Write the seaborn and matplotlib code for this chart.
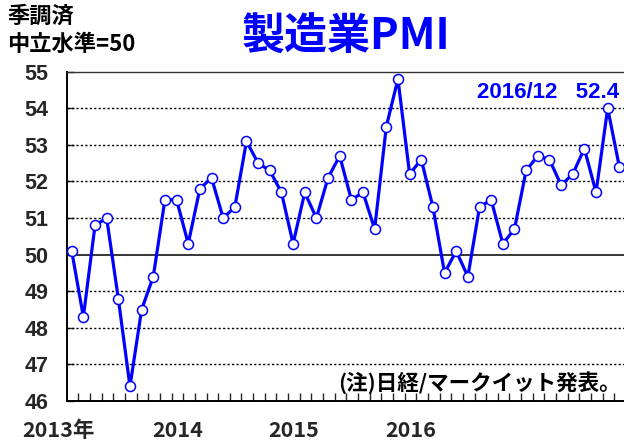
import matplotlib
matplotlib.use("Agg")
import matplotlib.pyplot as plt
import matplotlib.transforms as mtransforms
import numpy as np
import pandas as pd
import seaborn as sns

# ---- data ----
months = [f"{y}/{m:02d}" for y in (2013, 2014, 2015, 2016) for m in range(1, 13)]
pmi = [50.1, 48.3, 50.8, 51.0, 48.8, 46.4, 48.5, 49.4, 51.5, 51.5, 50.3, 51.8,
       52.1, 51.0, 51.3, 53.1, 52.5, 52.3, 51.7, 50.3, 51.7, 51.0, 52.1, 52.7,
       51.5, 51.7, 50.7, 53.5, 54.8, 52.2, 52.6, 51.3, 49.5, 50.1, 49.4, 51.3,
       51.5, 50.3, 50.7, 52.3, 52.7, 52.6, 51.9, 52.2, 52.9, 51.7, 54.0, 52.4]
year_labels = ["2013年", "2014", "2015", "2016"]
y_ticks = [46, 47, 48, 49, 50, 51, 52, 53, 54, 55]
title = "製造業PMI"
note_top = "季調済\n中立水準=50"
latest_label = "2016/12   52.4"
source_note = "(注)日経/マークイット発表。"

df = pd.DataFrame({"idx": np.arange(len(pmi)), "month": months, "pmi": pmi})

sns.set_style("white")
plt.rcParams["font.family"] = ["Liberation Sans", "Noto Sans CJK JP", "DejaVu Sans"]

fig = plt.figure(figsize=(6.24, 4.47), dpi=100)
ax = fig.add_axes([66.7 / 624, 1 - 401 / 447, (624 - 66.7) / 624, (401 - 71.7) / 447])

BLUE = "#0000FF"
sns.lineplot(data=df, x="idx", y="pmi", ax=ax, color=BLUE, linewidth=2.3,
             marker="o", markersize=7.2, markerfacecolor="white",
             markeredgecolor=BLUE, markeredgewidth=1.1, zorder=5)

ax.set_xlim(-0.43, 47.4)
ax.set_ylim(46, 55)

# grid lines
for v in y_ticks[1:-1]:
    if v == 50:
        ax.axhline(v, color="black", linewidth=1.1, zorder=2)
    else:
        ax.axhline(v, color="black", linewidth=1.0, linestyle=(0, (1.6, 1.6)), zorder=2)

# spines
for s in ("left", "bottom"):
    ax.spines[s].set_color("black")
    ax.spines[s].set_linewidth(1.4)
ax.spines["top"].set_color("#333333")
ax.spines["top"].set_linewidth(1.0)
ax.spines["right"].set_visible(False)

# y ticks
ax.set_yticks(y_ticks)
ax.set_yticklabels([str(v) for v in y_ticks], fontsize=15.5, fontweight="bold")
ax.tick_params(axis="y", direction="in", length=5, width=1, pad=13, left=True)

# x ticks: monthly boundaries, inward; no labels
ax.set_xticks(np.arange(0.57, 47.4, 1.0))
ax.set_xticklabels([])
ax.tick_params(axis="x", direction="in", length=6, width=1, bottom=True)
ax.set_xlabel("")
ax.set_ylabel("")

# year labels
trans = mtransforms.blended_transform_factory(ax.transData, ax.transAxes)
year_pos = [-1.1, 9.1, 19.05, 29.07]
for xp, lab in zip(year_pos, year_labels):
    ax.text(xp, -0.091, lab, transform=trans, ha="center", va="center",
            fontsize=15.5, fontweight="bold",
            family=["Liberation Sans Narrow", "Noto Sans CJK JP", "DejaVu Sans"],
            clip_on=False)

# title and notes
fig.text(346 / 624, 1 - 37 / 447, title, ha="center", va="center", color=BLUE,
         fontsize=31, fontweight="bold", family=["Noto Sans CJK JP", "DejaVu Sans"])
fig.text(7 / 624, 1 - 5 / 447, note_top, ha="left", va="top", color="black",
         fontsize=16, fontweight="bold", linespacing=1.3,
         family=["Noto Sans CJK JP", "DejaVu Sans"])
fig.text(619 / 624, 1 - 93 / 447, latest_label, ha="right", va="center", color=BLUE,
         fontsize=16, fontweight="bold", family=["Liberation Sans", "DejaVu Sans"])
fig.text(621 / 624, 1 - 383 / 447, source_note, ha="right", va="center", color="black",
         fontsize=15.5, fontweight="bold", family=["Noto Sans CJK JP", "DejaVu Sans"])

fig.savefig("out.png", dpi=100)
